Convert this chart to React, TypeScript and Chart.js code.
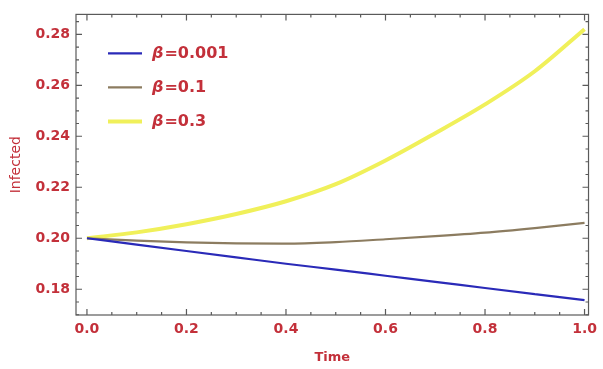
import React, { useEffect, useRef } from "react";
import { Chart, registerables } from "chart.js";

Chart.register(...registerables);

const timeValues = [0, 0.1, 0.2, 0.3, 0.4, 0.5, 0.6, 0.7, 0.8, 0.9, 1.0];
const blueSeries = [0.2, 0.1975, 0.195, 0.1925, 0.19, 0.1877, 0.1853, 0.1829, 0.1805, 0.1781, 0.1757];
const brownSeries = [0.2, 0.1991, 0.1984, 0.198, 0.1979, 0.1985, 0.1996, 0.2008, 0.2022, 0.204, 0.206];
const yellowSeries = [0.2, 0.2023, 0.2055, 0.2095, 0.2145, 0.2212, 0.2305, 0.2412, 0.2525, 0.2655, 0.282];
const seriesLabels = ["β=0.001", "β=0.1", "β=0.3"];
const seriesColors = ["#2a2ab8", "#8c7c60", "#f0f05a"];
const seriesWidths = [2.2, 2.2, 4];
const xTickLabels = [0, 0.2, 0.4, 0.6, 0.8, 1.0];
const yTickLabels = [0.18, 0.2, 0.22, 0.24, 0.26, 0.28];
const xMinorStep = 0.05;
const yMinorStep = 0.005;
const xTitle = "Time";
const yTitle = "Infected";

const labelColor = "#c3303a";
const frameColor = "#5a5a5a";

const framePlugin = {
  id: "frameTicks",
  afterDraw(chart: any) {
    const { ctx, chartArea } = chart;
    const xs = chart.scales.x;
    const ys = chart.scales.y;
    const { left, right, top, bottom } = chartArea;
    ctx.save();
    ctx.strokeStyle = frameColor;
    ctx.lineWidth = 1.2;
    ctx.strokeRect(left, top, right - left, bottom - top);
    ctx.beginPath();
    for (let i = 0; ; i++) {
      const v = Math.round(i * xMinorStep * 1000) / 1000;
      if (v > xs.max) break;
      const px = xs.getPixelForValue(v);
      const major = Math.abs(v * 5 - Math.round(v * 5)) < 1e-6;
      const len = major ? 6 : 3;
      ctx.moveTo(px, bottom);
      ctx.lineTo(px, bottom - len);
      ctx.moveTo(px, top);
      ctx.lineTo(px, top + len);
    }
    for (let i = 0; ; i++) {
      const v = Math.round((0.17 + i * yMinorStep) * 10000) / 10000;
      if (v > ys.max) break;
      if (v < ys.min) continue;
      const py = ys.getPixelForValue(v);
      const major = Math.abs(v * 50 - Math.round(v * 50)) < 1e-6;
      const len = major ? 6 : 3;
      ctx.moveTo(left, py);
      ctx.lineTo(left + len, py);
      ctx.moveTo(right, py);
      ctx.lineTo(right - len, py);
    }
    ctx.stroke();

    const datasets = chart.data.datasets;
    datasets.forEach((ds: any, i: number) => {
      const y = top + 39 + i * 34;
      ctx.beginPath();
      ctx.strokeStyle = ds.borderColor;
      ctx.lineWidth = ds.borderWidth;
      ctx.moveTo(left + 32, y);
      ctx.lineTo(left + 66, y);
      ctx.stroke();
      const label: string = ds.label;
      ctx.fillStyle = labelColor;
      ctx.textBaseline = "middle";
      ctx.textAlign = "left";
      ctx.font = "italic bold 16px 'DejaVu Sans'";
      const first = label.charAt(0);
      ctx.fillText(first, left + 76, y);
      const w = ctx.measureText(first).width;
      ctx.font = "bold 16px 'DejaVu Sans'";
      ctx.fillText(label.slice(1), left + 76 + w + 1, y);
    });
    ctx.restore();
  },
};

export default function App() {
  const canvasRef = useRef<HTMLCanvasElement | null>(null);

  useEffect(() => {
    if (!canvasRef.current) return;
    const series = [blueSeries, brownSeries, yellowSeries];
    const chart = new Chart(canvasRef.current, {
      type: "line",
      data: {
        datasets: series.map((s, i) => ({
          label: seriesLabels[i],
          data: timeValues.map((t, j) => ({ x: t, y: s[j] })),
          borderColor: seriesColors[i],
          backgroundColor: seriesColors[i],
          borderWidth: seriesWidths[i],
          pointRadius: 0,
          cubicInterpolationMode: "monotone" as const,
          fill: false,
        })),
      },
      options: {
        responsive: false,
        maintainAspectRatio: false,
        animation: false,
        layout: { padding: { top: 12, right: 8, left: 0, bottom: 0 } },
        plugins: {
          legend: { display: false },
          tooltip: { enabled: false },
        },
        scales: {
          x: {
            type: "linear",
            min: -0.022,
            max: 1.008,
            grid: { display: false, drawTicks: false, tickLength: 0 },
            border: { display: false },
            afterBuildTicks: (scale: any) => {
              scale.ticks = xTickLabels.map((v) => ({ value: v }));
            },
            afterFit: (scale: any) => {
              scale.height = 54;
            },
            ticks: {
              autoSkip: false,
              maxRotation: 0,
              padding: 6,
              color: labelColor,
              font: { family: "'DejaVu Sans'", size: 14, weight: "bold" },
              callback: (v: any) => Number(v).toFixed(1),
            },
            title: {
              display: true,
              text: xTitle,
              color: labelColor,
              font: { family: "'DejaVu Sans'", size: 13, weight: "bold" },
              padding: { top: 0, bottom: 4 },
            },
          },
          y: {
            type: "linear",
            min: 0.1699,
            max: 0.2878,
            grid: { display: false, drawTicks: false, tickLength: 0 },
            border: { display: false },
            afterBuildTicks: (scale: any) => {
              scale.ticks = yTickLabels.map((v) => ({ value: v }));
            },
            afterFit: (scale: any) => {
              scale.width = 76;
            },
            ticks: {
              autoSkip: false,
              padding: 6,
              color: labelColor,
              font: { family: "'DejaVu Sans'", size: 14, weight: "bold" },
              callback: (v: any) => Number(v).toFixed(2),
            },
            title: {
              display: true,
              text: yTitle,
              color: labelColor,
              font: { family: "'DejaVu Sans'", size: 14 },
              padding: { top: 8, bottom: 0 },
            },
          },
        },
      },
      plugins: [framePlugin],
    });
    return () => chart.destroy();
  }, []);

  return (
    <div style={{ position: "fixed", left: 0, top: 0, width: 603, height: 369, background: "#fff" }}>
      <canvas ref={canvasRef} width={603} height={369} style={{ display: "block" }} />
    </div>
  );
}
